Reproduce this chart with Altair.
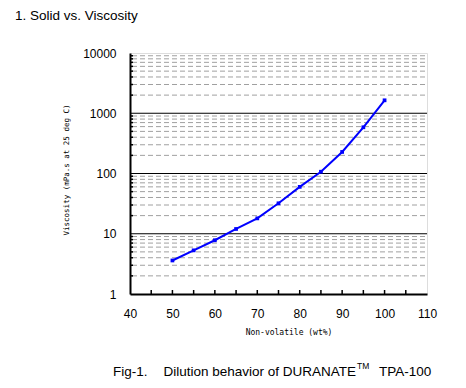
import altair as alt
import pandas as pd

# data
solid = [50, 55, 60, 65, 70, 75, 80, 85, 90, 95, 100]
viscosity = [3.6, 5.3, 7.8, 12, 18, 32, 60, 107, 228, 585, 1640]

major_y = [1, 10, 100, 1000, 10000]
minor_y = [m * d for d in [1, 10, 100, 1000] for m in range(2, 10)]
x_labels = [40, 50, 60, 70, 80, 90, 100, 110]
x_ticks = [45, 50, 55, 60, 65, 70, 75, 80, 85, 90, 95, 100, 105]

W, H = 297, 241
FONT = "Liberation Sans"
MONO = "DejaVu Sans Mono"

df = pd.DataFrame({"x": solid, "y": viscosity})

xs = alt.Scale(domain=[40, 110], nice=False, zero=False)
ys = alt.Scale(type="log", domain=[1, 10000], nice=False)

X_AX = alt.Axis(values=x_labels, grid=False, ticks=False, labelPadding=14,
                labelFlush=False, labelFont=FONT, labelFontSize=12,
                labelColor="black", domainColor="black", domainWidth=2,
                title=None)
Y_AX = alt.Axis(values=major_y, grid=False, ticks=False, labelPadding=14,
                labelFlush=False, format="d", labelFont=FONT, labelFontSize=12,
                labelColor="black", domainColor="black", domainWidth=2,
                title=None)

minor_grid = alt.Chart(pd.DataFrame({"v": minor_y})).mark_rule(
    color="#a0a0a0", strokeDash=[5, 3], strokeWidth=1
).encode(y=alt.Y("v:Q", scale=ys, axis=Y_AX), x=alt.value(2), x2=alt.value(W))

major_grid = alt.Chart(pd.DataFrame({"v": major_y[1:-1]})).mark_rule(
    color="black", strokeWidth=1.2
).encode(y=alt.Y("v:Q", scale=ys), x=alt.value(0), x2=alt.value(W))

y_ticks = alt.Chart(pd.DataFrame({"v": minor_y})).mark_rule(
    color="black", strokeWidth=1.5
).encode(y=alt.Y("v:Q", scale=ys), x=alt.value(0), x2=alt.value(3))

xt = alt.Chart(pd.DataFrame({"v": x_ticks})).mark_rule(
    color="black", strokeWidth=1.5
).encode(x=alt.X("v:Q", scale=xs, axis=X_AX), y=alt.value(H), y2=alt.value(H - 4))

line = alt.Chart(df).mark_line(color="#0000ff", strokeWidth=2).encode(
    x=alt.X("x:Q", scale=xs), y=alt.Y("y:Q", scale=ys))
pts = alt.Chart(df).mark_point(shape="square", filled=True, color="#0000ff",
                               size=14, opacity=1).encode(
    x=alt.X("x:Q", scale=xs), y=alt.Y("y:Q", scale=ys))


def txt(s, x, y, size, font=FONT, angle=0, align="left", baseline="alphabetic"):
    return alt.Chart(pd.DataFrame({"t": [s]})).mark_text(
        font=font, fontSize=size, align=align, baseline=baseline, angle=angle,
        color="black"
    ).encode(text="t:N", x=alt.value(x), y=alt.value(y))


texts = [
    txt("1. Solid vs. Viscosity", -115, -33, 13.5),
    txt("Viscosity (mPa.s at 25 deg C)", -63, 117, 7.5, font=MONO, angle=270,
        align="center", baseline="middle"),
    txt("Non-volatile (wt%)", 159, 282, 8, font=MONO, align="center"),
    txt("Fig-1.", -17, 323, 13.5),
    txt("Dilution behavior of DURANATE", 226, 323, 13.5, align="right"),
    txt("TM", 227, 316, 8.5),
    txt("TPA-100", 249, 323, 13.5),
]

chart = alt.layer(minor_grid, major_grid, y_ticks, xt, line, pts, *texts).properties(
    width=W, height=H,
    autosize=alt.AutoSizeParams(type="none"),
    padding={"left": 122, "top": 45, "right": 30, "bottom": 86},
).configure_view(stroke="#999999", strokeWidth=1.5).configure(background="white")

chart.save("out.html", embed_options={"renderer": "svg", "actions": False})
